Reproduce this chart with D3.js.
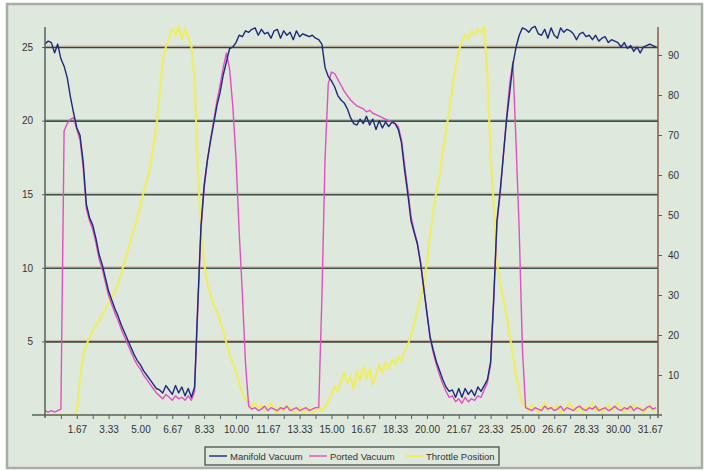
<!DOCTYPE html>
<html>
<head>
<meta charset="utf-8">
<script src="https://cdn.jsdelivr.net/npm/d3@7"></script>
<style>
  body { margin: 0; background: #fff; }
  svg text { font-family: "Liberation Sans", Arial, sans-serif; fill: #333; }
</style>
</head>
<body>
<div id="chart"></div>
<script>
// samples are logged every 1/6 s
const sampleStep = 1 / 6;

const xTickLabels = ["1.67", "3.33", "5.00", "6.67", "8.33", "10.00", "11.67", "13.33", "15.00", "16.67",
  "18.33", "20.00", "21.67", "23.33", "25.00", "26.67", "28.33", "30.00", "31.67"];
const leftTicks = [5, 10, 15, 20, 25];
const rightTicks = [10, 20, 30, 40, 50, 60, 70, 80, 90];

// Manifold Vacuum (in Hg, left axis)
const manifold = [
  25.2, 25.4, 25.3, 24.6, 25.2, 24.2, 23.7, 22.9, 21.6, 20.5,
  19.5, 19.0, 17.2, 14.3, 13.4, 12.9, 12.0, 10.9, 10.2, 9.3,
  8.4, 7.8, 7.2, 6.7, 6.1, 5.6, 5.1, 4.6, 4.1, 3.7,
  3.4, 3.0, 2.7, 2.4, 2.1, 1.8, 1.7, 1.5, 2.0, 1.7,
  1.4, 2.0, 1.5, 1.9, 1.3, 1.8, 1.2, 1.9, 7.5, 12.8,
  15.6, 17.3, 18.6, 19.8, 21.0, 21.9, 23.1, 24.0, 24.9, 25.0,
  25.3, 25.8, 25.7, 26.1, 26.0, 26.2, 26.3, 25.8, 26.2, 25.9,
  26.0, 25.6, 26.1, 26.2, 25.6, 26.1, 25.8, 26.0, 25.5, 26.1,
  25.7, 25.9, 25.8, 25.7, 25.8, 25.6, 25.5, 25.2, 23.6, 23.0,
  22.7, 22.3, 21.7, 21.4, 21.2, 20.8, 20.2, 19.8, 19.7, 20.1,
  19.8, 20.3, 19.7, 20.1, 19.4, 20.0, 19.5, 19.9, 19.6, 19.9,
  19.8, 19.4, 18.5, 16.6, 15.0, 13.2, 12.4, 11.6, 10.3, 8.6,
  6.9, 5.3, 4.4, 3.6, 3.0, 2.4, 1.9, 1.6, 1.7, 1.2,
  1.8, 1.2, 1.8, 1.4, 1.7, 1.3, 1.9, 1.6, 2.0, 2.4,
  3.6, 8.0, 13.2, 15.2, 17.6, 20.0, 21.9, 23.8, 25.0, 25.8,
  26.3, 26.2, 26.0, 26.3, 26.4, 25.9, 25.8, 26.2, 25.6, 26.3,
  25.8, 25.6, 26.3, 26.0, 26.2, 26.1, 25.9, 25.5, 25.9, 26.0,
  25.7, 25.8, 25.5, 25.8, 25.4, 25.6, 25.7, 25.3, 25.5, 25.4,
  25.3, 25.0, 25.3, 24.9, 25.1, 24.7, 25.0, 24.6, 25.0, 25.1,
  25.2, 25.1, 25.0
];

// Ported Vacuum (in Hg, left axis)
const ported = [
  0.3, 0.2, 0.3, 0.2, 0.3, 0.4, 19.3, 19.8, 20.1, 20.2,
  19.4, 18.7, 16.8, 14.0, 13.2, 12.6, 11.7, 10.6, 9.9, 9.0,
  8.1, 7.5, 6.9, 6.4, 5.8, 5.3, 4.8, 4.3, 3.8, 3.4,
  3.1, 2.7, 2.4, 2.1, 1.8, 1.5, 1.3, 1.1, 1.4, 1.2,
  1.0, 1.3, 1.1, 1.2, 1.0, 1.3, 1.0, 1.6, 7.2, 12.6,
  15.4, 17.2, 18.7, 20.0, 21.3, 22.4, 23.6, 24.6, 23.5, 21.0,
  17.5, 12.5, 8.3, 3.5, 0.6, 0.4, 0.5, 0.3, 0.4, 0.6,
  0.3, 0.5, 0.4, 0.3, 0.5, 0.4, 0.6, 0.3, 0.4, 0.5,
  0.3, 0.4, 0.5, 0.3, 0.4, 0.5, 0.5, 8.0, 17.5, 22.5,
  23.3, 23.2, 22.8, 22.4, 22.0, 21.7, 21.4, 21.2, 21.0, 20.9,
  20.8, 20.6, 20.7, 20.5, 20.4, 20.3, 20.2, 20.1, 20.0, 19.9,
  19.8, 19.6, 18.7, 17.0, 15.3, 13.5, 12.5, 11.7, 10.4, 8.7,
  7.0, 5.2, 4.2, 3.4, 2.7, 2.1, 1.6, 1.2, 1.3, 0.9,
  1.1, 0.8, 1.2, 0.9, 1.1, 1.0, 1.3, 1.2, 1.7, 2.2,
  3.4, 7.8, 13.0, 15.0, 17.6, 20.2, 22.5, 24.0, 18.5, 12.5,
  4.5, 0.5, 0.4, 0.3, 0.5, 0.4, 0.3, 0.6, 0.4, 0.5,
  0.3, 0.4, 0.6, 0.3, 0.5, 0.4, 0.3, 0.5, 0.6, 0.4,
  0.3, 0.5, 0.4, 0.6, 0.3, 0.4, 0.5, 0.3, 0.4, 0.6,
  0.4, 0.3, 0.5, 0.4, 0.6, 0.3, 0.5, 0.4, 0.3, 0.5,
  0.6, 0.4, 0.5
];

// Throttle Position (%, right axis)
const throttle = [
  0, 0, 0, 0, 0, 0, 0, 0, 0, 0,
  1, 9, 15, 17.5, 19.5, 21, 22.5, 23.5, 25, 26.5,
  28, 29.5, 31, 33, 35.5, 38.5, 41, 44, 46.5, 49.5,
  52.5, 56, 58.5, 62, 67, 72, 80, 89, 92, 94.5,
  96.5, 95, 97, 94, 96.5, 94.5, 92, 84, 62, 46,
  38, 33, 30, 27.5, 26, 23.5, 21, 18, 15, 13,
  11, 8, 5.5, 4, 3, 2, 3, 1.5, 2.5, 1,
  2, 3, 1.5, 0.5, 2, 1, 2.5, 1.5, 0.5, 1,
  2, 0.5, 1, 1.5, 0.5, 1, 2, 1, 2, 3.5,
  5, 7, 6, 8.5, 10.5, 8, 9.5, 6.5, 11, 8.5,
  12, 9, 11.5, 7.5, 10, 12.5, 10.5, 13, 11.5, 14,
  12.5, 14.5, 13.5, 16, 17.5, 20, 23, 26, 29, 33,
  38, 45, 51, 56, 60, 66, 71, 76, 82, 87,
  91, 93.5, 95, 94, 96, 95, 96.5, 95.5, 97, 85,
  65, 52, 38, 33, 29, 25, 20, 15, 10, 6,
  3, 2, 1, 2.5, 1.5, 0.5, 2, 3, 1, 2,
  1.5, 2.5, 0.5, 1, 2, 3, 1.5, 1, 2.5, 0.5,
  2, 1.5, 3, 1, 2, 0.5, 1.5, 2.5, 1, 2,
  3, 1.5, 0.5, 2, 1, 2.5, 1.5, 2, 0.5, 1.5,
  2.5, 1, 2
];

const seriesNames = ["Manifold Vacuum", "Ported Vacuum", "Throttle Position"];
const seriesColors = ["#1d2a7a", "#e050c0", "#f0ee58"];

const width = 707, height = 471;
const plot = { left: 45, right: 658, top: 27, bottom: 415 };

const svg = d3.select("#chart").append("svg")
  .attr("width", width)
  .attr("height", height);

// chart frame
svg.append("rect")
  .attr("x", 7).attr("y", 4)
  .attr("width", 695).attr("height", 464)
  .attr("fill", "#dfe8dc")
  .attr("stroke", "#a9aca9")
  .attr("stroke-width", 2.5);

const x = d3.scaleLinear().domain([0, 32.1]).range([plot.left, plot.right]);
const yL = d3.scaleLinear().domain([0, 26.36]).range([plot.bottom, plot.top]);
const yR = d3.scaleLinear().domain([0, 97]).range([plot.bottom, plot.top]);

// horizontal gridlines (faint warm fringe above a dark line, like the print)
svg.append("g").selectAll("line")
  .data(leftTicks)
  .join("line")
  .attr("x1", plot.left).attr("x2", plot.right)
  .attr("y1", d => yL(d) - 1).attr("y2", d => yL(d) - 1)
  .attr("stroke", "#c9866a").attr("stroke-width", 1).attr("opacity", 0.5);
svg.append("g").selectAll("line")
  .data(leftTicks)
  .join("line")
  .attr("x1", plot.left).attr("x2", plot.right)
  .attr("y1", d => yL(d) + 0.5).attr("y2", d => yL(d) + 0.5)
  .attr("stroke", d => d === 25 ? "#4a3c34" : "#38504c")
  .attr("stroke-width", 1.6);

// series
const times = d3.range(manifold.length).map(i => i * sampleStep);
const lineL = d3.line().x((d, i) => x(times[i])).y(d => yL(d));
const lineR = d3.line().x((d, i) => x(times[i])).y(d => yR(d));

svg.append("path").datum(throttle)
  .attr("fill", "none").attr("stroke", seriesColors[2])
  .attr("stroke-width", 2.2).attr("stroke-linejoin", "round")
  .attr("opacity", 0.9)
  .attr("d", lineR);
svg.append("path").datum(ported)
  .attr("fill", "none").attr("stroke", seriesColors[1])
  .attr("stroke-width", 1.4).attr("stroke-linejoin", "round")
  .attr("d", lineL);
svg.append("path").datum(manifold)
  .attr("fill", "none").attr("stroke", seriesColors[0])
  .attr("stroke-width", 1.4).attr("stroke-linejoin", "round")
  .attr("d", lineL);

// axes
const axisColor = "#55635f";
const styleAxis = g => {
  g.select(".domain").remove();
  g.selectAll(".tick line").attr("stroke", axisColor);
  g.selectAll(".tick text").attr("fill", "#3a3a3a").style("font-size", "10px");
};

svg.append("line")
  .attr("x1", plot.left).attr("x2", plot.left)
  .attr("y1", plot.top).attr("y2", plot.bottom + 3)
  .attr("stroke", axisColor).attr("stroke-width", 1.5);
svg.append("line")
  .attr("x1", plot.right).attr("x2", plot.right)
  .attr("y1", plot.top).attr("y2", plot.bottom + 3)
  .attr("stroke", "#8a5a4a").attr("stroke-width", 1.5);
svg.append("line")
  .attr("x1", 32).attr("x2", plot.right + 4)
  .attr("y1", plot.bottom).attr("y2", plot.bottom)
  .attr("stroke", axisColor).attr("stroke-width", 1.5);

svg.append("g")
  .attr("transform", `translate(${plot.left},0)`)
  .call(d3.axisLeft(yL).tickValues(leftTicks).tickSize(3).tickPadding(9))
  .call(styleAxis);

svg.append("g")
  .attr("transform", `translate(${plot.right},0)`)
  .call(d3.axisRight(yR).tickValues(rightTicks).tickSize(4).tickPadding(6))
  .call(styleAxis);

// x axis: minor tick every 5 samples, label every 10
const xMinor = d3.range(1, 39).map(k => k * 5 * sampleStep);
svg.append("g")
  .attr("transform", `translate(0,${plot.bottom})`)
  .call(d3.axisBottom(x).tickValues(xMinor).tickSize(4).tickFormat(""))
  .call(styleAxis);
svg.append("g")
  .attr("transform", `translate(0,${plot.bottom})`)
  .call(d3.axisBottom(x).tickValues(xTickLabels.map(Number)).tickSize(0).tickPadding(11)
    .tickFormat((d, i) => xTickLabels[i]))
  .call(styleAxis);

// legend
const legend = svg.append("g").attr("transform", "translate(205,447)");
legend.append("rect")
  .attr("width", 294).attr("height", 18)
  .attr("fill", "#dfe8dc").attr("stroke", "#4a4f4c").attr("stroke-width", 1.3);
const legendX = [4, 104, 200];
seriesNames.forEach((name, i) => {
  legend.append("line")
    .attr("x1", legendX[i]).attr("x2", legendX[i] + 18)
    .attr("y1", 9).attr("y2", 9)
    .attr("stroke", seriesColors[i]).attr("stroke-width", i === 2 ? 2 : 1.4);
  legend.append("text")
    .attr("x", legendX[i] + 21).attr("y", 12.5)
    .style("font-size", "9.5px")
    .attr("fill", "#3a3a3a")
    .text(name);
});
</script>
</body>
</html>
